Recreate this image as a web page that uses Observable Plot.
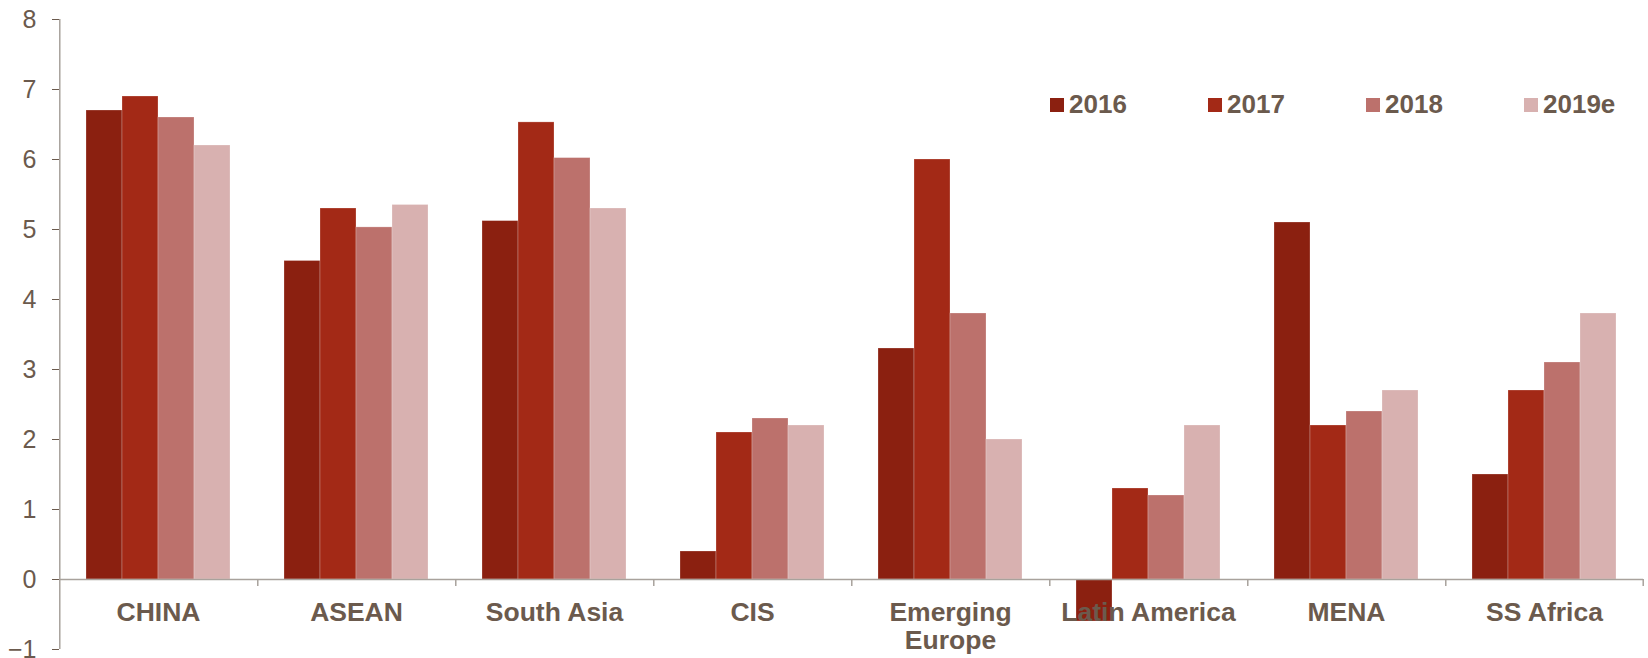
<!DOCTYPE html>
<html><head><meta charset="utf-8">
<script src="https://cdn.jsdelivr.net/npm/d3@7"></script>
<script src="https://cdn.jsdelivr.net/npm/@observablehq/plot@0.6"></script>
<style>
body{margin:0;background:#fff;font-family:"Liberation Sans",Arial,sans-serif;}
#wrap{position:relative;width:1648px;height:658px;}
#legend{position:absolute;top:89px;left:1050px;display:flex;}
#legend .item{width:158px;display:flex;align-items:center;font-weight:bold;font-size:26px;color:#6B5A4D;}
#legend .sw{width:14px;height:14px;margin-right:5px;}
svg [aria-label="y-axis tick"]{stroke:#A8A29C;}
</style></head><body><div id="wrap"><div id="legend"></div></div>
<script>
const regions = ["CHINA","ASEAN","South Asia","CIS","Emerging Europe","Latin America","MENA","SS Africa"];
const regionLabels = ["CHINA","ASEAN","South Asia","CIS","Emerging\nEurope","Latin America","MENA","SS Africa"];
const years = ["2016","2017","2018","2019e"];
const v2016 = [6.7,4.55,5.12,0.4,3.3,-0.6,5.1,1.5];
const v2017 = [6.9,5.3,6.53,2.1,6.0,1.3,2.2,2.7];
const v2018 = [6.6,5.03,6.02,2.3,3.8,1.2,2.4,3.1];
const v2019e = [6.2,5.35,5.3,2.2,2.0,2.2,2.7,3.8];
const yTicks = [-1,0,1,2,3,4,5,6,7,8];
const colors = ["#8B2010","#A32916","#BC716C","#D8B1B0"];

const series = [v2016,v2017,v2018,v2019e];
const data = [];
regions.forEach((r,i)=>years.forEach((y,j)=>data.push({region:r,year:y,value:series[j][i]})));

const W=1648,H=658,mL=57,mR=3,mT=19,mB=9;
const step=(W-mL-mR)/regions.length;
const pOuter=0.73;
const bw=step/(years.length+2*pOuter);
const edgeDx=-(pOuter+0.5)*bw;
const axisColor="#A8A29C", textColor="#6B5A4D";

const chart = Plot.plot({
  width:W,height:H,marginLeft:mL,marginRight:mR,marginTop:mT,marginBottom:mB,
  style:{fontFamily:'"Liberation Sans",Arial,sans-serif',color:textColor,background:"white",overflow:"visible"},
  fx:{domain:regions,padding:0,axis:null},
  x:{domain:years,paddingInner:0,paddingOuter:pOuter,axis:null},
  y:{domain:[-1,8],axis:null},
  color:{domain:years,range:colors},
  marks:[
    Plot.barY(data,{fx:"region",x:"year",y:"value",fill:"year",stroke:"white",strokeOpacity:0.3,strokeWidth:0.8}),
    Plot.ruleY([0],{stroke:axisColor,strokeWidth:1.5}),
    Plot.ruleX([regions[regions.length-1]],{fx:d=>d,x:()=>"2019e",dx:-edgeDx,y1:0,y2:-0.1,stroke:axisColor,strokeWidth:1.5}),
    Plot.ruleX(regions.slice(1),{fx:d=>d,x:()=>"2016",dx:edgeDx,y1:0,y2:-0.1,stroke:axisColor,strokeWidth:1.5}),
    Plot.ruleX([regions[0]],{fx:d=>d,x:()=>"2016",dx:edgeDx,y1:-1,y2:8,stroke:axisColor,strokeWidth:1.5}),
    Plot.axisY({ticks:yTicks,tickSize:7,tickPadding:16,fontSize:25,fill:textColor,label:null}),
    Plot.text(regions,{fx:d=>d,y:()=>0,text:(d,i)=>regionLabels[i],dy:21,lineAnchor:"top",lineHeight:1.07,fontSize:26.5,fontWeight:"bold",fill:textColor})
  ]
});
document.getElementById("wrap").appendChild(chart);
const lg=document.getElementById("legend");
years.forEach((y,i)=>{
  const it=document.createElement("div");it.className="item";
  it.innerHTML=`<span class="sw" style="background:${colors[i]}"></span>${y}`;
  lg.appendChild(it);
});
</script></body></html>
